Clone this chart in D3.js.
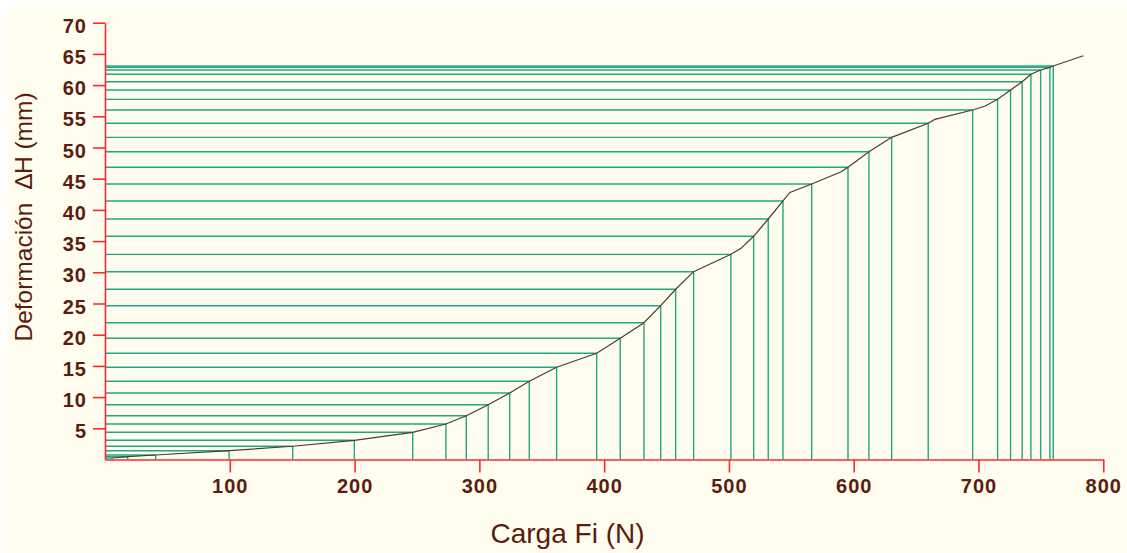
<!DOCTYPE html>
<html>
<head>
<meta charset="utf-8">
<script src="https://cdn.jsdelivr.net/npm/d3@7"></script>
<style>
  html, body { margin: 0; padding: 0; background: #ffffff; }
  svg { display: block; }
  .tick-label { font-family: "Liberation Sans", Arial, sans-serif; font-weight: bold; font-size: 20px; fill: #5a1c0c; letter-spacing: 1px; }
  .axis-title { font-family: "Liberation Sans", Arial, sans-serif; fill: #5a1c0c; white-space: pre; }
</style>
</head>
<body>
<div id="chart"></div>
<script>
// measured points (each has drop lines to both axes)
const cargaFi = [5.6, 18.2, 40.6, 99.4, 150.4, 199.8, 246.6, 273.2, 289.5, 307.1, 324.3, 340, 361.9,
    394, 412.9, 431.9, 445.3, 457.3, 471.7, 501.6, 519.8, 531.5, 543.3, 566.3, 595.4, 612.2,
    630.4, 659.7, 695.3, 715.3, 725.7, 735, 742, 749.8, 757.2, 759.9];
const deformacion = [0.24, 0.45, 0.72, 1.41, 2.12, 3.08, 4.36, 5.69, 7.02, 8.78, 10.66, 12.53, 14.78,
    17.02, 19.42, 21.92, 24.65, 27.28, 30.1, 32.88, 35.77, 38.54, 41.43, 44.15, 46.83, 49.33,
    51.63, 53.88, 56.01, 57.72, 59.21, 60.54, 61.73, 62.42, 62.85, 63.06];

// extra points of the curve that have no drop lines
const cargaCurva = [509.4, 548.9, 590, 665, 705.4, 784];
const deformCurva = [33.8, 42.8, 46.1, 54.5, 56.65, 64.7];

const xTicks = [100, 200, 300, 400, 500, 600, 700, 800];
const yTicks = [5, 10, 15, 20, 25, 30, 35, 40, 45, 50, 55, 60, 65, 70];

const width = 1127;
const height = 553;

const x = d3.scaleLinear().domain([0, 800]).range([105, 1103.3]);
const y = d3.scaleLinear().domain([0, 70]).range([459.5, 22.7]);

const svg = d3.select('#chart').append('svg')
    .attr('width', width)
    .attr('height', height);

svg.append('rect')
    .attr('x', 7)
    .attr('y', 8)
    .attr('width', width - 7)
    .attr('height', height - 8)
    .attr('fill', '#fffcf0');

const puntos = cargaFi.map((c, i) => ({ c: c, d: deformacion[i] }));
const curva = puntos.concat(cargaCurva.map((c, i) => ({ c: c, d: deformCurva[i] })))
    .sort((a, b) => a.c - b.c);

const lineColor = '#22a77e';

// horizontal drop lines
svg.append('g').selectAll('line')
    .data(puntos)
    .enter()
    .append('line')
    .attr('x1', x(0))
    .attr('x2', (p) => x(p.c))
    .attr('y1', (p) => y(p.d))
    .attr('y2', (p) => y(p.d))
    .attr('stroke', lineColor)
    .attr('stroke-width', 1.4);

// vertical drop lines
svg.append('g').selectAll('line')
    .data(puntos)
    .enter()
    .append('line')
    .attr('x1', (p) => x(p.c))
    .attr('x2', (p) => x(p.c))
    .attr('y1', y(0))
    .attr('y2', (p) => y(p.d))
    .attr('stroke', lineColor)
    .attr('stroke-width', 1.4);

// curve
svg.append('path')
    .datum(curva)
    .attr('fill', 'none')
    .attr('stroke', '#4d3b34')
    .attr('stroke-width', 1.2)
    .attr('d', d3.line().x((p) => x(p.c)).y((p) => y(p.d)));

// axes
const axisRed = '#ff2b2b';

const xAxis = svg.append('g')
    .attr('transform', `translate(0,${y(0)})`)
    .call(d3.axisBottom(x).tickValues(xTicks).tickSize(13).tickSizeOuter(0));

const yAxis = svg.append('g')
    .attr('transform', `translate(${x(0)},0)`)
    .call(d3.axisLeft(y).tickValues(yTicks).tickSize(12).tickSizeOuter(0).tickPadding(6));

[xAxis, yAxis].forEach((ax) => {
    ax.select('.domain').attr('stroke', axisRed).attr('stroke-width', 1.6);
    ax.selectAll('.tick line').attr('stroke', axisRed).attr('stroke-width', 1.6);
    ax.selectAll('.tick text')
        .attr('class', 'tick-label')
        .attr('fill', null)
        .attr('font-size', null)
        .attr('font-family', null);
});

xAxis.selectAll('.tick text')
    .attr('y', 33)
    .attr('dy', 0);

yAxis.selectAll('.tick text')
    .attr('dy', 9.5)
    .attr('dx', 0);

// axis titles
svg.append('text')
    .attr('class', 'axis-title')
    .attr('x', 567.5)
    .attr('y', 543)
    .attr('text-anchor', 'middle')
    .attr('font-size', 28)
    .text('Carga Fi (N)');

svg.append('text')
    .attr('class', 'axis-title')
    .attr('transform', 'translate(31.5,217) rotate(-90)')
    .attr('text-anchor', 'middle')
    .attr('font-size', 24.5)
    .text('Deformación\u00a0\u00a0\u2206H (mm)');
</script>
</body>
</html>
